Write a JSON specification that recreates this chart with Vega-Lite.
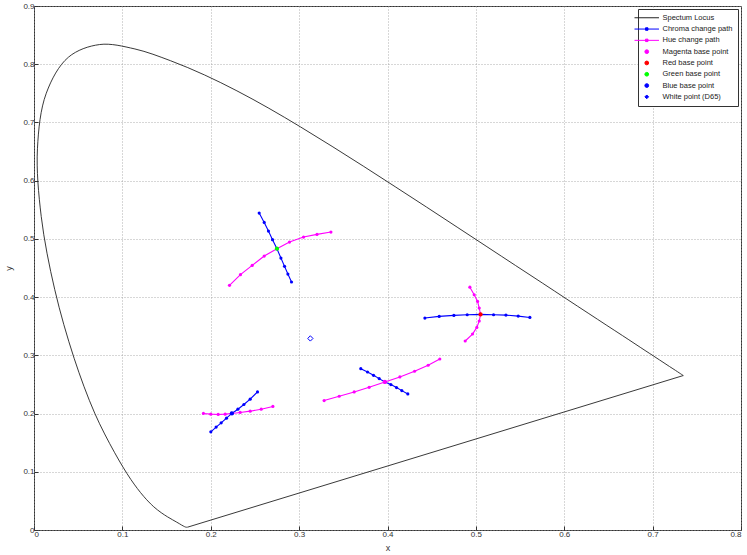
{
  "$schema": "https://vega.github.io/schema/vega-lite/v6.json",
  "width": 707,
  "height": 524,
  "autosize": {"type": "none"},
  "padding": {"left": 34, "top": 6, "right": 6, "bottom": 25},
  "background": "white",
  "config": {
    "font": "Liberation Sans",
    "view": {"stroke": "#333333", "strokeWidth": 1},
    "axis": {
      "grid": true,
      "gridColor": "#9a9a9a",
      "gridDash": [1, 2],
      "gridWidth": 0.8,
      "domain": false,
      "tickColor": "#333333",
      "tickSize": -4,
      "labelFontSize": 8,
      "labelColor": "#333333",
      "titleFontSize": 9,
      "titleFontWeight": "normal",
      "titleColor": "#333333"
    }
  },
  "datasets": {
    "locus": [
      {"series": "Spectum Locus", "i": 0, "x": 0.1741, "y": 0.0050},
      {"series": "Spectum Locus", "i": 1, "x": 0.1740, "y": 0.0050},
      {"series": "Spectum Locus", "i": 2, "x": 0.1738, "y": 0.0049},
      {"series": "Spectum Locus", "i": 3, "x": 0.1736, "y": 0.0049},
      {"series": "Spectum Locus", "i": 4, "x": 0.1733, "y": 0.0048},
      {"series": "Spectum Locus", "i": 5, "x": 0.1730, "y": 0.0048},
      {"series": "Spectum Locus", "i": 6, "x": 0.1726, "y": 0.0048},
      {"series": "Spectum Locus", "i": 7, "x": 0.1721, "y": 0.0048},
      {"series": "Spectum Locus", "i": 8, "x": 0.1714, "y": 0.0051},
      {"series": "Spectum Locus", "i": 9, "x": 0.1703, "y": 0.0058},
      {"series": "Spectum Locus", "i": 10, "x": 0.1689, "y": 0.0069},
      {"series": "Spectum Locus", "i": 11, "x": 0.1669, "y": 0.0086},
      {"series": "Spectum Locus", "i": 12, "x": 0.1644, "y": 0.0109},
      {"series": "Spectum Locus", "i": 13, "x": 0.1611, "y": 0.0138},
      {"series": "Spectum Locus", "i": 14, "x": 0.1566, "y": 0.0177},
      {"series": "Spectum Locus", "i": 15, "x": 0.1510, "y": 0.0227},
      {"series": "Spectum Locus", "i": 16, "x": 0.1440, "y": 0.0297},
      {"series": "Spectum Locus", "i": 17, "x": 0.1355, "y": 0.0399},
      {"series": "Spectum Locus", "i": 18, "x": 0.1241, "y": 0.0578},
      {"series": "Spectum Locus", "i": 19, "x": 0.1096, "y": 0.0868},
      {"series": "Spectum Locus", "i": 20, "x": 0.0913, "y": 0.1327},
      {"series": "Spectum Locus", "i": 21, "x": 0.0687, "y": 0.2007},
      {"series": "Spectum Locus", "i": 22, "x": 0.0454, "y": 0.2950},
      {"series": "Spectum Locus", "i": 23, "x": 0.0235, "y": 0.4127},
      {"series": "Spectum Locus", "i": 24, "x": 0.0082, "y": 0.5384},
      {"series": "Spectum Locus", "i": 25, "x": 0.0039, "y": 0.6548},
      {"series": "Spectum Locus", "i": 26, "x": 0.0139, "y": 0.7502},
      {"series": "Spectum Locus", "i": 27, "x": 0.0389, "y": 0.8120},
      {"series": "Spectum Locus", "i": 28, "x": 0.0743, "y": 0.8338},
      {"series": "Spectum Locus", "i": 29, "x": 0.1142, "y": 0.8262},
      {"series": "Spectum Locus", "i": 30, "x": 0.1547, "y": 0.8059},
      {"series": "Spectum Locus", "i": 31, "x": 0.1929, "y": 0.7816},
      {"series": "Spectum Locus", "i": 32, "x": 0.2296, "y": 0.7543},
      {"series": "Spectum Locus", "i": 33, "x": 0.2658, "y": 0.7243},
      {"series": "Spectum Locus", "i": 34, "x": 0.3016, "y": 0.6923},
      {"series": "Spectum Locus", "i": 35, "x": 0.3373, "y": 0.6589},
      {"series": "Spectum Locus", "i": 36, "x": 0.3731, "y": 0.6245},
      {"series": "Spectum Locus", "i": 37, "x": 0.4087, "y": 0.5896},
      {"series": "Spectum Locus", "i": 38, "x": 0.4441, "y": 0.5547},
      {"series": "Spectum Locus", "i": 39, "x": 0.4788, "y": 0.5202},
      {"series": "Spectum Locus", "i": 40, "x": 0.5125, "y": 0.4866},
      {"series": "Spectum Locus", "i": 41, "x": 0.5448, "y": 0.4544},
      {"series": "Spectum Locus", "i": 42, "x": 0.5752, "y": 0.4242},
      {"series": "Spectum Locus", "i": 43, "x": 0.6029, "y": 0.3965},
      {"series": "Spectum Locus", "i": 44, "x": 0.6270, "y": 0.3725},
      {"series": "Spectum Locus", "i": 45, "x": 0.6482, "y": 0.3514},
      {"series": "Spectum Locus", "i": 46, "x": 0.6658, "y": 0.3340},
      {"series": "Spectum Locus", "i": 47, "x": 0.6801, "y": 0.3197},
      {"series": "Spectum Locus", "i": 48, "x": 0.6915, "y": 0.3083},
      {"series": "Spectum Locus", "i": 49, "x": 0.7006, "y": 0.2993},
      {"series": "Spectum Locus", "i": 50, "x": 0.7079, "y": 0.2920},
      {"series": "Spectum Locus", "i": 51, "x": 0.7140, "y": 0.2859},
      {"series": "Spectum Locus", "i": 52, "x": 0.7190, "y": 0.2809},
      {"series": "Spectum Locus", "i": 53, "x": 0.7230, "y": 0.2770},
      {"series": "Spectum Locus", "i": 54, "x": 0.7260, "y": 0.2740},
      {"series": "Spectum Locus", "i": 55, "x": 0.7283, "y": 0.2717},
      {"series": "Spectum Locus", "i": 56, "x": 0.7300, "y": 0.2700},
      {"series": "Spectum Locus", "i": 57, "x": 0.7311, "y": 0.2689},
      {"series": "Spectum Locus", "i": 58, "x": 0.7320, "y": 0.2680},
      {"series": "Spectum Locus", "i": 59, "x": 0.7327, "y": 0.2673},
      {"series": "Spectum Locus", "i": 60, "x": 0.7334, "y": 0.2666},
      {"series": "Spectum Locus", "i": 61, "x": 0.7340, "y": 0.2660},
      {"series": "Spectum Locus", "i": 62, "x": 0.7344, "y": 0.2656},
      {"series": "Spectum Locus", "i": 63, "x": 0.7346, "y": 0.2654},
      {"series": "Spectum Locus", "i": 64, "x": 0.7347, "y": 0.2653}
    ],
    "closing": [
      {"series": "Spectum Locus", "i": 0, "x": 0.7347, "y": 0.2653},
      {"series": "Spectum Locus", "i": 1, "x": 0.1741, "y": 0.0050}
    ],
    "paths": [
      {"series": "Chroma change path", "grp": "c1", "i": 0, "x": 0.2548, "y": 0.5443},
      {"series": "Chroma change path", "grp": "c1", "i": 1, "x": 0.2605, "y": 0.5283},
      {"series": "Chroma change path", "grp": "c1", "i": 2, "x": 0.2653, "y": 0.5134},
      {"series": "Chroma change path", "grp": "c1", "i": 3, "x": 0.2699, "y": 0.4986},
      {"series": "Chroma change path", "grp": "c1", "i": 4, "x": 0.2749, "y": 0.4832},
      {"series": "Chroma change path", "grp": "c1", "i": 5, "x": 0.2794, "y": 0.4671},
      {"series": "Chroma change path", "grp": "c1", "i": 6, "x": 0.2835, "y": 0.4528},
      {"series": "Chroma change path", "grp": "c1", "i": 7, "x": 0.2873, "y": 0.4396},
      {"series": "Chroma change path", "grp": "c1", "i": 8, "x": 0.2914, "y": 0.4259},
      {"series": "Hue change path", "grp": "h1", "i": 0, "x": 0.2212, "y": 0.4202},
      {"series": "Hue change path", "grp": "h1", "i": 1, "x": 0.2336, "y": 0.4386},
      {"series": "Hue change path", "grp": "h1", "i": 2, "x": 0.2469, "y": 0.4545},
      {"series": "Hue change path", "grp": "h1", "i": 3, "x": 0.2605, "y": 0.4705},
      {"series": "Hue change path", "grp": "h1", "i": 4, "x": 0.2749, "y": 0.4832},
      {"series": "Hue change path", "grp": "h1", "i": 5, "x": 0.2891, "y": 0.4945},
      {"series": "Hue change path", "grp": "h1", "i": 6, "x": 0.3050, "y": 0.5031},
      {"series": "Hue change path", "grp": "h1", "i": 7, "x": 0.3202, "y": 0.5077},
      {"series": "Hue change path", "grp": "h1", "i": 8, "x": 0.3360, "y": 0.5117},
      {"series": "Chroma change path", "grp": "c2", "i": 0, "x": 0.2001, "y": 0.1686},
      {"series": "Chroma change path", "grp": "c2", "i": 1, "x": 0.2061, "y": 0.1767},
      {"series": "Chroma change path", "grp": "c2", "i": 2, "x": 0.2118, "y": 0.1840},
      {"series": "Chroma change path", "grp": "c2", "i": 3, "x": 0.2178, "y": 0.1921},
      {"series": "Chroma change path", "grp": "c2", "i": 4, "x": 0.2239, "y": 0.2002},
      {"series": "Chroma change path", "grp": "c2", "i": 5, "x": 0.2307, "y": 0.2075},
      {"series": "Chroma change path", "grp": "c2", "i": 6, "x": 0.2375, "y": 0.2156},
      {"series": "Chroma change path", "grp": "c2", "i": 7, "x": 0.2446, "y": 0.2247},
      {"series": "Chroma change path", "grp": "c2", "i": 8, "x": 0.2529, "y": 0.2372},
      {"series": "Hue change path", "grp": "h2", "i": 0, "x": 0.1917, "y": 0.2002},
      {"series": "Hue change path", "grp": "h2", "i": 1, "x": 0.2001, "y": 0.1990},
      {"series": "Hue change path", "grp": "h2", "i": 2, "x": 0.2084, "y": 0.1985},
      {"series": "Hue change path", "grp": "h2", "i": 3, "x": 0.2163, "y": 0.1990},
      {"series": "Hue change path", "grp": "h2", "i": 4, "x": 0.2239, "y": 0.2002},
      {"series": "Hue change path", "grp": "h2", "i": 5, "x": 0.2333, "y": 0.2019},
      {"series": "Hue change path", "grp": "h2", "i": 6, "x": 0.2446, "y": 0.2041},
      {"series": "Hue change path", "grp": "h2", "i": 7, "x": 0.2571, "y": 0.2075},
      {"series": "Hue change path", "grp": "h2", "i": 8, "x": 0.2703, "y": 0.2122},
      {"series": "Chroma change path", "grp": "c3", "i": 0, "x": 0.3698, "y": 0.2771},
      {"series": "Chroma change path", "grp": "c3", "i": 1, "x": 0.3774, "y": 0.2714},
      {"series": "Chroma change path", "grp": "c3", "i": 2, "x": 0.3842, "y": 0.2657},
      {"series": "Chroma change path", "grp": "c3", "i": 3, "x": 0.3906, "y": 0.2600},
      {"series": "Chroma change path", "grp": "c3", "i": 4, "x": 0.3970, "y": 0.2543},
      {"series": "Chroma change path", "grp": "c3", "i": 5, "x": 0.4038, "y": 0.2497},
      {"series": "Chroma change path", "grp": "c3", "i": 6, "x": 0.4102, "y": 0.2446},
      {"series": "Chroma change path", "grp": "c3", "i": 7, "x": 0.4162, "y": 0.2394},
      {"series": "Chroma change path", "grp": "c3", "i": 8, "x": 0.4230, "y": 0.2337},
      {"series": "Hue change path", "grp": "h3", "i": 0, "x": 0.3283, "y": 0.2223},
      {"series": "Hue change path", "grp": "h3", "i": 1, "x": 0.3453, "y": 0.2297},
      {"series": "Hue change path", "grp": "h3", "i": 2, "x": 0.3623, "y": 0.2371},
      {"series": "Hue change path", "grp": "h3", "i": 3, "x": 0.3792, "y": 0.2451},
      {"series": "Hue change path", "grp": "h3", "i": 4, "x": 0.3970, "y": 0.2543},
      {"series": "Hue change path", "grp": "h3", "i": 5, "x": 0.4140, "y": 0.2629},
      {"series": "Hue change path", "grp": "h3", "i": 6, "x": 0.4306, "y": 0.2726},
      {"series": "Hue change path", "grp": "h3", "i": 7, "x": 0.4460, "y": 0.2829},
      {"series": "Hue change path", "grp": "h3", "i": 8, "x": 0.4592, "y": 0.2937},
      {"series": "Chroma change path", "grp": "c4", "i": 0, "x": 0.4423, "y": 0.3640},
      {"series": "Chroma change path", "grp": "c4", "i": 1, "x": 0.4585, "y": 0.3669},
      {"series": "Chroma change path", "grp": "c4", "i": 2, "x": 0.4751, "y": 0.3686},
      {"series": "Chroma change path", "grp": "c4", "i": 3, "x": 0.4902, "y": 0.3697},
      {"series": "Chroma change path", "grp": "c4", "i": 4, "x": 0.5053, "y": 0.3703},
      {"series": "Chroma change path", "grp": "c4", "i": 5, "x": 0.5200, "y": 0.3697},
      {"series": "Chroma change path", "grp": "c4", "i": 6, "x": 0.5340, "y": 0.3691},
      {"series": "Chroma change path", "grp": "c4", "i": 7, "x": 0.5479, "y": 0.3674},
      {"series": "Chroma change path", "grp": "c4", "i": 8, "x": 0.5611, "y": 0.3651},
      {"series": "Hue change path", "grp": "h4", "i": 0, "x": 0.4932, "y": 0.4171},
      {"series": "Hue change path", "grp": "h4", "i": 1, "x": 0.4981, "y": 0.4040},
      {"series": "Hue change path", "grp": "h4", "i": 2, "x": 0.5019, "y": 0.3926},
      {"series": "Hue change path", "grp": "h4", "i": 3, "x": 0.5038, "y": 0.3811},
      {"series": "Hue change path", "grp": "h4", "i": 4, "x": 0.5053, "y": 0.3703},
      {"series": "Hue change path", "grp": "h4", "i": 5, "x": 0.5038, "y": 0.3589},
      {"series": "Hue change path", "grp": "h4", "i": 6, "x": 0.5011, "y": 0.3480},
      {"series": "Hue change path", "grp": "h4", "i": 7, "x": 0.4962, "y": 0.3366},
      {"series": "Hue change path", "grp": "h4", "i": 8, "x": 0.4879, "y": 0.3246}
    ],
    "bases": [
      {"series": "Magenta base point", "x": 0.3970, "y": 0.2543},
      {"series": "Red base point", "x": 0.5053, "y": 0.3703},
      {"series": "Green base point", "x": 0.2749, "y": 0.4832},
      {"series": "Blue base point", "x": 0.2239, "y": 0.2002}
    ],
    "white": [
      {"series": "White point (D65)", "x": 0.3127, "y": 0.3290}
    ]
  },
  "encoding": {
    "x": {
      "field": "x", "type": "quantitative",
      "scale": {"domain": [0, 0.8], "nice": false, "zero": false},
      "axis": {"title": "x", "values": [0, 0.1, 0.2, 0.3, 0.4, 0.5, 0.6, 0.7, 0.8], "format": "~g", "labelPadding": 4, "titlePadding": 5}
    },
    "y": {
      "field": "y", "type": "quantitative",
      "scale": {"domain": [0, 0.9], "nice": false, "zero": false},
      "axis": {"title": "y", "values": [0, 0.1, 0.2, 0.3, 0.4, 0.5, 0.6, 0.7, 0.8, 0.9], "format": "~g", "labelPadding": 4, "titlePadding": 9}
    },
    "color": {
      "field": "series", "type": "nominal",
      "scale": {
        "domain": ["Spectum Locus", "Chroma change path", "Hue change path", "Magenta base point", "Red base point", "Green base point", "Blue base point", "White point (D65)"],
        "range": ["#222222", "#0000ff", "#ff00ff", "#ff00ff", "#ff0000", "#00ff00", "#0000ff", "#0000ff"]
      },
      "legend": {
        "orient": "top-right",
        "offset": 3,
        "title": null,
        "strokeColor": "#333333",
        "fillColor": "white",
        "padding": 5,
        "labelFontSize": 7.5,
        "labelColor": "#222222",
        "labelOffset": 12,
        "rowPadding": 2.3,
        "symbolSize": 600,
        "symbolStrokeWidth": 1,
        "encode": {
          "symbols": {
            "update": {
              "shape": {"signal": "datum.index == 0 ? 'stroke' : datum.index < 3 ? 'M-1,0H1M-0.1,-0.1H0.1V0.1H-0.1Z' : datum.index == 7 ? 'diamond' : 'circle'"},
              "size": {"signal": "datum.index < 3 ? 600 : 14"},
              "fill": {"signal": "datum.index > 2 && datum.index < 7 ? scale('color', datum.value) : 'transparent'"},
              "stroke": {"signal": "scale('color', datum.value)"},
              "strokeWidth": {"value": 1},
              "opacity": {"value": 1}
            }
          }
        }
      }
    }
  },
  "layer": [
    {
      "data": {"name": "locus"},
      "mark": {"type": "line", "interpolate": "catmull-rom", "strokeWidth": 0.9},
      "encoding": {"order": {"field": "i", "type": "quantitative"}}
    },
    {
      "data": {"name": "closing"},
      "mark": {"type": "line", "strokeWidth": 0.9},
      "encoding": {"order": {"field": "i", "type": "quantitative"}}
    },
    {
      "data": {"name": "paths"},
      "mark": {"type": "line", "strokeWidth": 1.1},
      "encoding": {
        "detail": {"field": "grp", "type": "nominal"},
        "order": {"field": "i", "type": "quantitative"}
      }
    },
    {
      "data": {"name": "paths"},
      "mark": {"type": "point", "filled": true, "size": 10, "opacity": 1}
    },
    {
      "data": {"name": "bases"},
      "mark": {"type": "point", "filled": true, "size": 18, "opacity": 1}
    },
    {
      "data": {"name": "white"},
      "mark": {"type": "point", "shape": "diamond", "filled": false, "size": 28, "strokeWidth": 1, "opacity": 1}
    }
  ]
}
